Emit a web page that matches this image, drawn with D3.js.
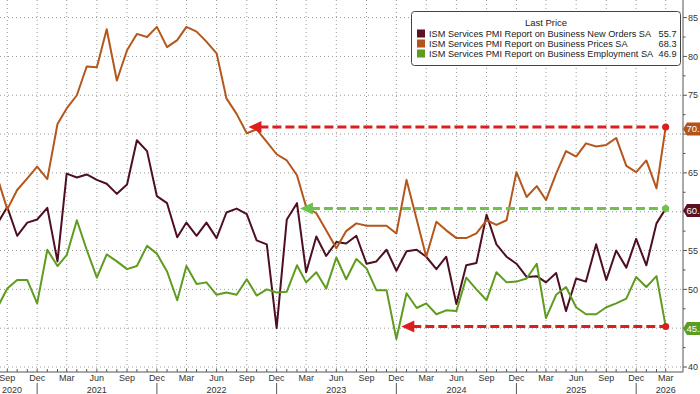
<!DOCTYPE html>
<html>
<head>
<meta charset="utf-8">
<script src="https://cdn.jsdelivr.net/npm/d3@7"></script>
<style>
  body { margin: 0; background: #fff; }
  svg { display: block; font-family: 'Liberation Sans', Arial, sans-serif; }
</style>
</head>
<body>
<script>
// monthly readings, Aug 2020 .. Mar 2026
const firstMonth = new Date(2020, 7, 1);
const newOrders = [
  58.4, 60.6, 56.9, 58.6, 59.0,
  60.5, 53.6, 64.9, 64.4, 64.8, 64.1, 63.6, 62.3, 63.5, 69.2, 67.8, 62.0,
  61.1, 56.7, 58.6, 56.9, 58.6, 56.6, 59.9, 60.4, 59.7, 56.3, 55.8, 45.0,
  59.0, 61.1, 52.2, 56.8, 54.3, 56.1, 55.9, 56.9, 53.3, 53.6, 55.1, 52.4,
  54.9, 55.1, 54.2, 52.6, 54.2, 48.1, 53.1, 53.4, 59.6, 55.8, 54.2, 53.3,
  51.6, 51.7, 50.9, 52.1, 47.2, 51.4, 51.0, 55.8, 51.2, 55.0, 52.8, 56.5,
  53.1, 58.5, 60.4
];
const prices = [
  64.5, 60.3, 62.8, 64.3, 65.8,
  64.2, 71.3, 73.3, 75.0, 78.7, 78.6, 83.5, 76.9, 80.8, 82.9, 82.5, 83.8,
  81.2, 82.1, 83.8, 83.2, 81.9, 80.4, 74.6, 72.6, 70.1, 70.6, 69.0, 67.4,
  66.6, 64.7, 60.6, 59.8, 57.6, 55.3, 57.5, 58.5, 58.2, 58.2, 58.2, 57.2,
  64.1, 59.0, 54.2, 58.7, 57.6, 56.6, 56.6, 57.2, 58.9, 58.3, 58.9, 65.1,
  61.9, 63.3, 61.5, 64.9, 67.8, 67.1, 68.8, 68.4, 68.6, 69.5, 65.9, 65.1,
  66.6, 63.0, 70.9
];
const employment = [
  47.6, 50.1, 51.2, 51.2, 48.2,
  55.1, 53.0, 54.4, 58.9, 55.1, 51.5, 54.5, 53.6, 52.6, 53.0, 55.6, 54.6,
  52.3, 48.6, 53.0, 50.7, 50.9, 49.3, 49.6, 49.3, 51.3, 49.2, 50.0, 49.6,
  49.7, 53.1, 50.9, 52.2, 50.1, 54.1, 51.3, 53.9, 52.7, 49.9, 49.9, 43.6,
  49.5, 47.6, 48.2, 46.8, 47.3, 47.2, 51.5, 50.0, 48.6, 52.2, 50.9, 51.0,
  51.4, 53.3, 46.3, 49.3, 50.3, 47.7, 46.8, 46.8, 47.7, 48.2, 48.8, 51.6,
  50.3, 51.7, 45.2
];
const seriesNames = [
  'ISM Services PMI Report on Business New Orders SA',
  'ISM Services PMI Report on Business Prices SA',
  'ISM Services PMI Report on Business Employment SA'
];
const legendLast = ['55.7', '68.3', '46.9'];
const yTicks = [40, 45, 50, 55, 60, 65, 70, 75, 80, 85];
// where the "back to" arrows point, one per series
const arrowTips = [new Date(2023, 1, 10), new Date(2022, 8, 6), new Date(2023, 11, 16)];

const W = 700, H = 394;
const plotR = 683, plotB = 372;
const colors = ['#4e0f20', '#b5561c', '#5e9c1f'];
const tagColors = ['#5a1122', '#b4531a', '#5e9c1f'];
const arrowColors = ['#6cc24a', '#dc1e1e', '#dc1e1e'];

const months = d3.timeMonth.range(firstMonth, new Date(2026, 3, 1));
const data = [newOrders, prices, employment];
const lastVals = data.map(s => s[s.length - 1]);

const x = d3.scaleTime()
  .domain([new Date(2020, 8, 1), new Date(2026, 2, 1)])
  .range([7.3, 665.7]);
const y = d3.scaleLinear().domain([40, 85]).range([367, 17.6]);

const svg = d3.select('body').append('svg').attr('width', W).attr('height', H);

svg.append('clipPath').attr('id', 'plot')
  .append('rect').attr('x', 0).attr('y', 0).attr('width', plotR).attr('height', plotB);

// grid
const quarters = d3.timeMonth.range(new Date(2020, 8, 1), new Date(2026, 3, 1))
  .filter(d => d.getMonth() % 3 === 2);

svg.append('g').selectAll('line').data(yTicks).enter().append('line')
  .attr('x1', 0).attr('x2', plotR)
  .attr('y1', d => y(d)).attr('y2', d => y(d))
  .attr('stroke', '#9a9a9a').attr('stroke-dasharray', '1,3');

svg.append('g').selectAll('line').data(quarters).enter().append('line')
  .attr('x1', d => x(d)).attr('x2', d => x(d))
  .attr('y1', 0).attr('y2', plotB)
  .attr('stroke', '#9a9a9a').attr('stroke-dasharray', '1,3');

// series
const line = d3.line().x((d, i) => x(months[i])).y(d => y(d));
svg.append('g').attr('clip-path', 'url(#plot)')
  .selectAll('path').data(data).enter().append('path')
  .attr('d', line)
  .attr('fill', 'none')
  .attr('stroke', (d, i) => colors[i])
  .attr('stroke-width', 2)
  .attr('stroke-linejoin', 'round');

// dashed arrows from last value back in time
const lastDate = months[months.length - 1];
const ann = svg.append('g');
data.forEach((s, i) => {
  const yy = y(lastVals[i]);
  const tip = x(arrowTips[i]);
  ann.append('line')
    .attr('x1', tip + 11).attr('x2', x(lastDate))
    .attr('y1', yy).attr('y2', yy)
    .attr('stroke', arrowColors[i]).attr('stroke-width', 3)
    .attr('stroke-dasharray', '9,4');
  ann.append('path')
    .attr('d', `M${tip},${yy}L${tip + 13},${yy - 6}L${tip + 13},${yy + 6}Z`)
    .attr('fill', arrowColors[i]);
  ann.append('circle')
    .attr('cx', x(lastDate)).attr('cy', yy).attr('r', 3.5)
    .attr('fill', arrowColors[i]);
});

// x axis
const xa = svg.append('g').attr('font-size', 9).attr('fill', '#333');
xa.append('line').attr('x1', 0).attr('x2', plotR).attr('y1', plotB).attr('y2', plotB)
  .attr('stroke', '#555');
xa.selectAll('.mt').data(months.slice(1)).enter().append('line')
  .attr('x1', d => x(d)).attr('x2', d => x(d))
  .attr('y1', plotB - 3).attr('y2', plotB)
  .attr('stroke', '#555');
xa.selectAll('.ml').data(quarters).enter().append('text')
  .attr('x', d => x(d)).attr('y', 381)
  .attr('text-anchor', 'middle')
  .text(d => d3.timeFormat('%b')(d));
xa.selectAll('.sep').data(quarters.filter(d => d.getMonth() === 11)).enter().append('line')
  .attr('x1', d => x(d)).attr('x2', d => x(d))
  .attr('y1', 383).attr('y2', H)
  .attr('stroke', '#555');
const years = d3.range(2020, 2027);
xa.selectAll('.yl').data(years).enter().append('text')
  .attr('x', d => {
    if (d === 2020) return Math.max(12, x(new Date(2020, 8, 1)));
    if (d === 2026) return x(new Date(2026, 2, 1));
    return x(new Date(d, 5, 1));
  })
  .attr('y', 392.5)
  .attr('text-anchor', 'middle')
  .text(d => d);

// y axis on the right (labels hidden under a value tag are skipped)
const tagY = lastVals.map(v => y(v) + 2);
const ya = svg.append('g').attr('font-size', 9).attr('fill', '#333');
ya.append('line').attr('x1', plotR).attr('x2', plotR).attr('y1', 0).attr('y2', plotB)
  .attr('stroke', '#555');
ya.selectAll('.mn').data(d3.range(40, 86, 2.5)).enter().append('line')
  .attr('x1', plotR).attr('x2', d => plotR + (d % 5 === 0 ? 4 : 2.5))
  .attr('y1', d => y(d)).attr('y2', d => y(d))
  .attr('stroke', '#555');
ya.selectAll('.yl').data(yTicks.filter(t => tagY.every(ty => Math.abs(y(t) - ty) > 10)))
  .enter().append('text')
  .attr('x', plotR + 5).attr('y', d => y(d)).attr('dy', '0.35em')
  .text(d => d);

// last value tags
const tags = svg.append('g');
lastVals.forEach((v, i) => {
  const yy = tagY[i];
  tags.append('path')
    .attr('d', `M${plotR},${yy}L${plotR + 4},${yy - 6.5}L${W + 2},${yy - 6.5}L${W + 2},${yy + 6.5}L${plotR + 4},${yy + 6.5}Z`)
    .attr('fill', tagColors[i]);
  tags.append('text')
    .attr('x', plotR + 3.5).attr('y', yy).attr('dy', '0.35em')
    .attr('font-size', 9.5).attr('fill', '#fff')
    .text(v.toFixed(1));
});

// legend
const lg = svg.append('g').attr('font-size', 9.2).attr('fill', '#222');
lg.append('rect')
  .attr('x', 411.5).attr('y', 11.5).attr('width', 269).attr('height', 54).attr('rx', 3)
  .attr('fill', '#fff').attr('stroke', '#444');
lg.append('text').attr('x', 546).attr('y', 25.5).attr('text-anchor', 'middle')
  .attr('font-size', 9.5).text('Last Price');
seriesNames.forEach((n, i) => {
  const cy = 33.5 + i * 10;
  lg.append('rect').attr('x', 417).attr('y', cy - 4).attr('width', 8).attr('height', 8)
    .attr('fill', tagColors[i]);
  lg.append('text').attr('x', 429).attr('y', cy + 3.3).text(n);
  lg.append('text').attr('x', 676.5).attr('y', cy + 3.3).attr('text-anchor', 'end').text(legendLast[i]);
});
</script>
</body>
</html>
